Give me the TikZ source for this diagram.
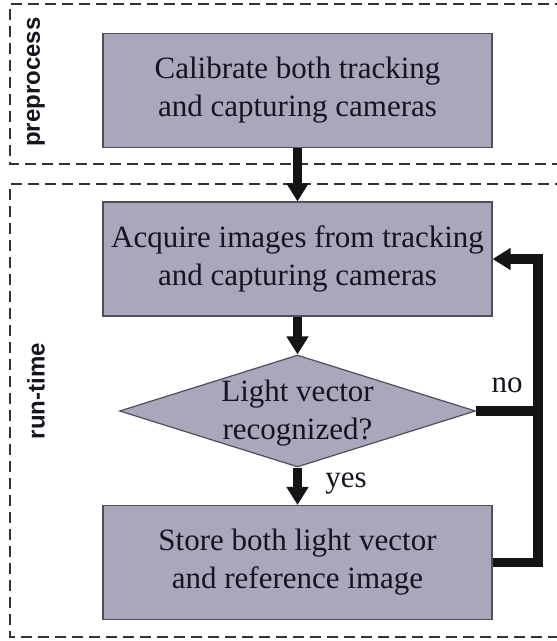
\documentclass[tikz,border=0pt]{standalone}
\usepackage{fontspec}
\setmainfont{Liberation Serif}
\newfontfamily\tagfont{Liberation Sans}
\usetikzlibrary{shapes.geometric,arrows.meta}

\definecolor{boxfill}{HTML}{A9A7BC}
\definecolor{boxline}{HTML}{4E4E5C}
\definecolor{ink}{HTML}{15151F}
\definecolor{frameline}{HTML}{333333}

\tikzset{
  stepbox/.style={draw=boxline, line width=1.2pt, fill=boxfill, rectangle,
    minimum width=389pt, minimum height=114pt, inner sep=0pt,
    align=center, text=ink, font=\fontsize{31}{38}\selectfont},
  decision/.style={draw=boxline, line width=1.2pt, fill=boxfill, diamond,
    minimum width=356pt, minimum height=112pt, inner sep=0pt},
  steptext/.style={align=center, text=ink, font=\fontsize{31}{38}\selectfont},
  flow/.style={line width=9.5pt, draw=black!92, line join=miter,
    -{Triangle[width=21pt,length=18pt]}},
  plain/.style={line width=9.5pt, draw=black!92, line join=miter},
  phase/.style={draw=frameline, line width=2pt, dash pattern=on 11pt off 6pt},
  phasetag/.style={rotate=90, font=\tagfont\bfseries\fontsize{24}{26}\selectfont, text=ink},
  edgetag/.style={text=ink, font=\fontsize{31}{36}\selectfont}
}

\begin{document}
\begin{tikzpicture}[x=1pt, y=-1pt]
  \clip (0,0) rectangle (557,641);
  \fill[white] (0,0) rectangle (557,641);

  % phase frames (open to the right)
  \draw[phase] (600,4) -- (10,4) -- (10,164) -- (600,164);
  \draw[phase] (600,184) -- (10,184) -- (10,637) -- (600,637);
  \node[phasetag] (pre) at (36,82) {preprocess};
  \node[phasetag] (run) at (36,391) {run-time};

  % steps
  \node[stepbox] (calib) at (297.5,90.5) {Calibrate both tracking\\and capturing cameras};
  \node[stepbox] (acq) at (297.5,259) {Acquire images from tracking\\and capturing cameras};
  \node[decision] (dec) at (297.5,411) {};
  \node[steptext] (dectext) at (297.5,413) {Light vector\\recognized?};
  \node[stepbox] (store) at (297.5,562.5) {Store both light vector\\and reference image};

  % connectors
  \draw[flow] (calib.south) -- (acq.north);
  \draw[flow] (acq.south) -- (dec.north);
  \draw[flow] (dec.south) -- (store.north);
  \coordinate (back) at (538,562.5);
  \draw[flow] (store.east) -- (back) |- (acq.east);
  \draw[plain] (dec.east) -- (dec.east -| back);

  \node[edgetag] (no) at (507,385) {no};
  \node[edgetag] (yes) at (346,484) {yes};
\end{tikzpicture}
\end{document}
